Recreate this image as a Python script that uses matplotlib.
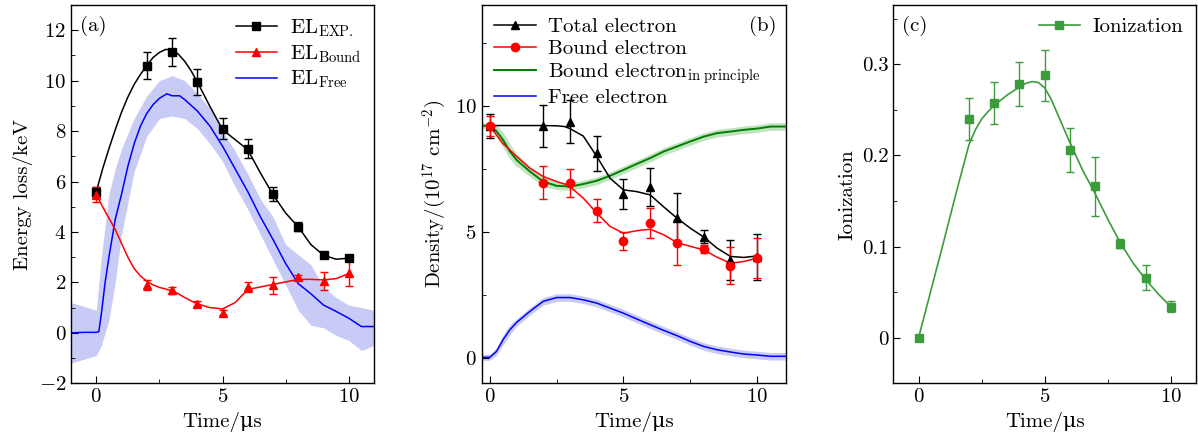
import matplotlib
matplotlib.use("Agg")
from matplotlib import pyplot as plt
from matplotlib.ticker import MultipleLocator, AutoMinorLocator

plt.rcParams["font.family"] = ["cmr10", "DejaVu Serif"]
plt.rcParams["mathtext.fontset"] = "cm"
plt.rcParams["axes.formatter.use_mathtext"] = True
plt.rcParams["font.size"] = 15

# measured points
t = [0, 2, 3, 4, 5, 6, 7, 8, 9, 10]

el_exp = [5.6, 10.6, 11.15, 9.95, 8.1, 7.3, 5.5, 4.2, 3.1, 2.95]
el_exp_err = [0.2, 0.53, 0.56, 0.5, 0.42, 0.37, 0.27, 0.18, 0.12, 0.1]
el_bound = [5.48, 1.9, 1.68, 1.15, 0.8, 1.81, 1.88, 2.2, 2.06, 2.37]
el_bound_err = [0.3, 0.2, 0.15, 0.1, 0.1, 0.2, 0.33, 0.1, 0.37, 0.5]

tot_e = [9.21, 9.2, 9.37, 8.12, 6.51, 6.78, 5.55, 4.82, 3.9, 4.0]
tot_e_err = [0.47, 0.85, 0.85, 0.7, 0.6, 0.75, 1.0, 0.25, 0.8, 0.9]
bnd_e = [9.21, 6.96, 6.93, 5.85, 4.64, 5.35, 4.58, 4.32, 3.67, 3.96]
bnd_e_err = [0.4, 0.65, 0.55, 0.45, 0.35, 0.6, 0.9, 0.15, 0.75, 0.8]

ion = [0.0, 0.24, 0.258, 0.278, 0.288, 0.206, 0.166, 0.103, 0.066, 0.034]
ion_err = [0.0, 0.0235, 0.023, 0.024, 0.028, 0.024, 0.032, 0.005, 0.014, 0.006]

# fit curves
tfa = [0, 0.25, 0.5, 0.75, 1, 1.25, 1.5, 1.75, 2, 2.25, 2.5, 2.75, 3, 3.25, 3.5, 3.75, 4,
       4.5, 5, 5.5, 6, 6.5, 7, 7.5, 8, 8.5, 9, 9.5, 10]
el_exp_fit = [5.6, 6.5, 7.3, 8.05, 8.75, 9.35, 9.85, 10.25, 10.6, 10.92, 11.12, 11.24, 11.22,
              11.05, 10.77, 10.4, 9.95, 8.98, 8.06, 7.66, 7.26, 6.34, 5.48, 4.75, 4.2, 3.5,
              3.08, 2.92, 2.96]
el_bound_fit = [5.48, 5.0, 4.55, 4.1, 3.55, 3.0, 2.55, 2.25, 2.05, 1.9, 1.8, 1.74, 1.66,
                1.55, 1.4, 1.27, 1.15, 1.0, 0.95, 1.2, 1.72, 1.82, 1.92, 2.02, 2.12, 2.12,
                2.1, 2.15, 2.35]

tfree = [-1, -0.5, 0, 0.1, 0.2, 0.35, 0.5, 0.75, 1, 1.25, 1.5, 1.75, 2, 2.25, 2.5, 2.8, 3, 3.3,
         3.5, 4, 4.5, 5, 5.5, 6, 6.5, 7, 7.5, 8, 8.5, 9, 9.5, 10, 10.5, 11]
el_free = [0, 0.02, 0.02, 0.05, 0.75, 2.0, 3.0, 4.5, 5.5, 6.6, 7.5, 8.2, 8.7, 9.05, 9.3, 9.48,
           9.4, 9.4, 9.25, 8.8, 8.2, 7.4, 6.5, 5.6, 4.6, 3.7, 2.75, 1.95, 1.55, 1.1, 0.85, 0.58,
           0.25, 0.25]

tband = [-1, 0, 0.2, 0.5, 0.75, 1, 1.5, 2, 2.5, 3, 3.5, 4, 4.5, 5, 5.5, 6, 6.5, 7, 7.5, 8,
         8.5, 9, 9.5, 10, 10.5, 11]
el_free_lo = [-1.2, -0.9, -0.5, 0.5, 2.0, 3.9, 6.4, 7.8, 8.5, 8.6, 8.5, 8.1, 7.5, 6.8, 5.8,
              4.9, 3.9, 2.9, 1.9, 0.9, 0.3, 0.2, -0.1, -0.3, -0.7, -0.5]
el_free_hi = [1.2, 0.9, 3.0, 5.5, 6.5, 7.3, 8.5, 9.4, 10.0, 10.2, 10.0, 9.5, 8.9, 8.0, 7.2,
              6.3, 5.3, 4.6, 3.5, 3.1, 2.7, 1.8, 1.4, 1.1, 1.0, 0.9]

tf = [0, 0.5, 1, 1.5, 2, 2.5, 2.8, 3, 3.5, 4, 4.5, 5, 5.5, 6, 6.5, 7, 7.5, 8, 8.5, 9, 9.5, 10]
tot_e_fit = [9.22, 9.22, 9.22, 9.22, 9.22, 9.21, 9.18, 9.1, 8.8, 8.0, 7.13, 6.67, 6.6, 6.47,
             6.0, 5.55, 5.15, 4.8, 4.36, 4.03, 3.99, 4.05]
bnd_e_fit = [9.21, 8.5, 8.0, 7.53, 7.2, 7.0, 6.9, 6.8, 6.34, 5.75, 5.22, 4.95, 5.05, 5.11,
             4.89, 4.58, 4.43, 4.29, 4.0, 3.76, 3.83, 3.96]

tg = [-0.3, 0, 0.25, 0.5, 0.75, 1, 1.5, 2, 2.5, 3, 3.5, 4, 4.5, 5, 5.5, 6, 6.5, 7, 7.5, 8,
      8.5, 9, 9.5, 10, 10.5, 11.1]
bnd_principle = [9.21, 9.21, 9.0, 8.65, 8.2, 7.86, 7.4, 7.0, 6.83, 6.8, 6.9, 7.03, 7.23, 7.46,
                 7.7, 7.93, 8.19, 8.39, 8.59, 8.78, 8.92, 8.98, 9.05, 9.1, 9.18, 9.18]
bnd_principle_hw = [0.12, 0.12, 0.25, 0.3, 0.3, 0.25, 0.2, 0.18, 0.15, 0.15, 0.15, 0.15, 0.15,
                    0.15, 0.15, 0.15, 0.15, 0.15, 0.15, 0.15, 0.15, 0.15, 0.15, 0.15, 0.15, 0.15]
free_e = [0.03, 0.03, 0.26, 0.73, 1.12, 1.41, 1.85, 2.25, 2.4, 2.4, 2.31, 2.18, 1.98, 1.78,
          1.55, 1.32, 1.1, 0.89, 0.66, 0.46, 0.33, 0.24, 0.16, 0.12, 0.07, 0.07]
free_e_hw = [0.12, 0.12, 0.15, 0.2, 0.2, 0.15, 0.15, 0.15, 0.15, 0.15, 0.15, 0.15, 0.15, 0.15,
             0.15, 0.15, 0.15, 0.15, 0.15, 0.15, 0.15, 0.15, 0.15, 0.15, 0.15, 0.15]

tion = [0, 0.5, 1, 1.5, 2, 2.25, 2.5, 2.75, 3, 3.5, 4, 4.25, 4.5, 4.75, 5, 5.25, 5.5, 6, 6.5,
        7, 7.5, 8, 8.5, 9, 9.5, 10]
ion_fit = [0.0, 0.053, 0.106, 0.16, 0.212, 0.228, 0.24, 0.248, 0.255, 0.266, 0.275, 0.279,
           0.281, 0.28, 0.274, 0.262, 0.246, 0.214, 0.184, 0.158, 0.13, 0.104, 0.082, 0.064,
           0.048, 0.034]

blue = "#0000ff"
blue_band = "#c9cbf7"
green = "#008000"
green_band = "#bfe3bf"
green_c = "#3c9c3c"

fig = plt.figure(figsize=(11.98, 4.43), dpi=100)
ax1 = fig.add_axes([0.0593, 0.1348, 0.2529, 0.8539])
ax2 = fig.add_axes([0.4021, 0.1348, 0.2538, 0.8539])
ax3 = fig.add_axes([0.7457, 0.1348, 0.2527, 0.8539])

for ax in (ax1, ax2, ax3):
    ax.tick_params(which="both", direction="in", top=False, right=False, labelsize=15)
    ax.tick_params(which="major", length=5)
    ax.tick_params(which="minor", length=3)
    ax.xaxis.set_major_locator(MultipleLocator(5))
    ax.xaxis.set_minor_locator(AutoMinorLocator(2))
    ax.yaxis.set_minor_locator(AutoMinorLocator(2))
    ax.set_xlabel("Time/μs", fontsize=15)
    for s in ax.spines.values():
        s.set_linewidth(1.0)

# (a)
ax1.fill_between(tband, el_free_lo, el_free_hi, color=blue_band, lw=0)
ax1.plot(tfree, el_free, color=blue, lw=1.1)
ax1.plot(tfa, el_exp_fit, color="black", lw=1.1)
ax1.plot(tfa, el_bound_fit, color="red", lw=1.1)
ax1.errorbar(t, el_exp, yerr=el_exp_err, fmt="s", color="black", ms=6, capsize=3, elinewidth=1)
ax1.errorbar(t, el_bound, yerr=el_bound_err, fmt="^", color="red", ms=6, capsize=3, elinewidth=1)
h1, = ax1.plot([], [], "-s", color="black", ms=6, lw=1.1)
h2, = ax1.plot([], [], "-^", color="red", ms=6, lw=1.1)
h3, = ax1.plot([], [], "-", color=blue, lw=1.1)
ax1.legend([h1, h2, h3], [r"EL$_{\mathrm{EXP.}}$", r"EL$_{\mathrm{Bound}}$", r"EL$_{\mathrm{Free}}$"],
           loc="upper right", frameon=False, fontsize=15, handlelength=2.0,
           borderaxespad=0.2, labelspacing=0.2, handletextpad=0.6)
ax1.set_xlim(-1, 11)
ax1.set_ylim(-2, 13)
ax1.yaxis.set_major_locator(MultipleLocator(2))
ax1.set_ylabel("Energy loss/keV", fontsize=15)
ax1.text(0.03, 0.97, "(a)", transform=ax1.transAxes, ha="left", va="top", fontsize=15)

# (b)
ax2.fill_between(tg, [a - b for a, b in zip(bnd_principle, bnd_principle_hw)],
                 [a + b for a, b in zip(bnd_principle, bnd_principle_hw)], color=green_band, lw=0)
ax2.fill_between(tg, [a - b for a, b in zip(free_e, free_e_hw)],
                 [a + b for a, b in zip(free_e, free_e_hw)], color=blue_band, lw=0)
ax2.plot(tg, bnd_principle, color=green, lw=1.4)
ax2.plot(tg, free_e, color=blue, lw=1.1)
ax2.plot(tf, tot_e_fit, color="black", lw=1.1)
ax2.plot(tf, bnd_e_fit, color="red", lw=1.1)
ax2.errorbar(t, tot_e, yerr=tot_e_err, fmt="^", color="black", ms=6, capsize=3, elinewidth=1)
ax2.errorbar(t, bnd_e, yerr=bnd_e_err, fmt="o", color="red", ms=6, capsize=3, elinewidth=1)
g1, = ax2.plot([], [], "-^", color="black", ms=6, lw=1.1)
g2, = ax2.plot([], [], "-o", color="red", ms=6, lw=1.1)
g3, = ax2.plot([], [], "-", color=green, lw=1.4)
g4, = ax2.plot([], [], "-", color=blue, lw=1.1)
ax2.legend([g1, g2, g3, g4], ["Total electron", "Bound electron",
                              r"Bound electron$_{\mathrm{in\ principle}}$", "Free electron"],
           loc="upper left", frameon=False, fontsize=15, handlelength=2.0,
           borderaxespad=0.2, labelspacing=0.15, handletextpad=0.6)
ax2.set_xlim(-0.3, 11.07)
ax2.set_ylim(-1, 14)
ax2.yaxis.set_major_locator(MultipleLocator(5))
ax2.set_ylabel(r"Density/(10$^{17}$ cm$^{-2}$)", fontsize=15)
ax2.text(0.97, 0.97, "(b)", transform=ax2.transAxes, ha="right", va="top", fontsize=15)

# (c)
ax3.plot(tion, ion_fit, color=green_c, lw=1.2)
ax3.errorbar(t, ion, yerr=ion_err, fmt="s", color=green_c, ms=5.5, capsize=3, elinewidth=1)
k1, = ax3.plot([], [], "-s", color=green_c, ms=5.5, lw=1.2)
ax3.legend([k1], ["Ionization"], loc="upper right", frameon=False, fontsize=15,
           handlelength=2.0, borderaxespad=0.2, handletextpad=0.6)
ax3.set_xlim(-1, 11)
ax3.set_ylim(-0.05, 0.365)
ax3.yaxis.set_major_locator(MultipleLocator(0.1))
ax3.yaxis.set_major_formatter(plt.FuncFormatter(lambda v, p: "0" if abs(v) < 1e-9 else "%.1f" % v))
ax3.set_ylabel("Ionization", fontsize=15)
ax3.text(0.03, 0.97, "(c)", transform=ax3.transAxes, ha="left", va="top", fontsize=15)

fig.savefig("out.png", dpi=100)
